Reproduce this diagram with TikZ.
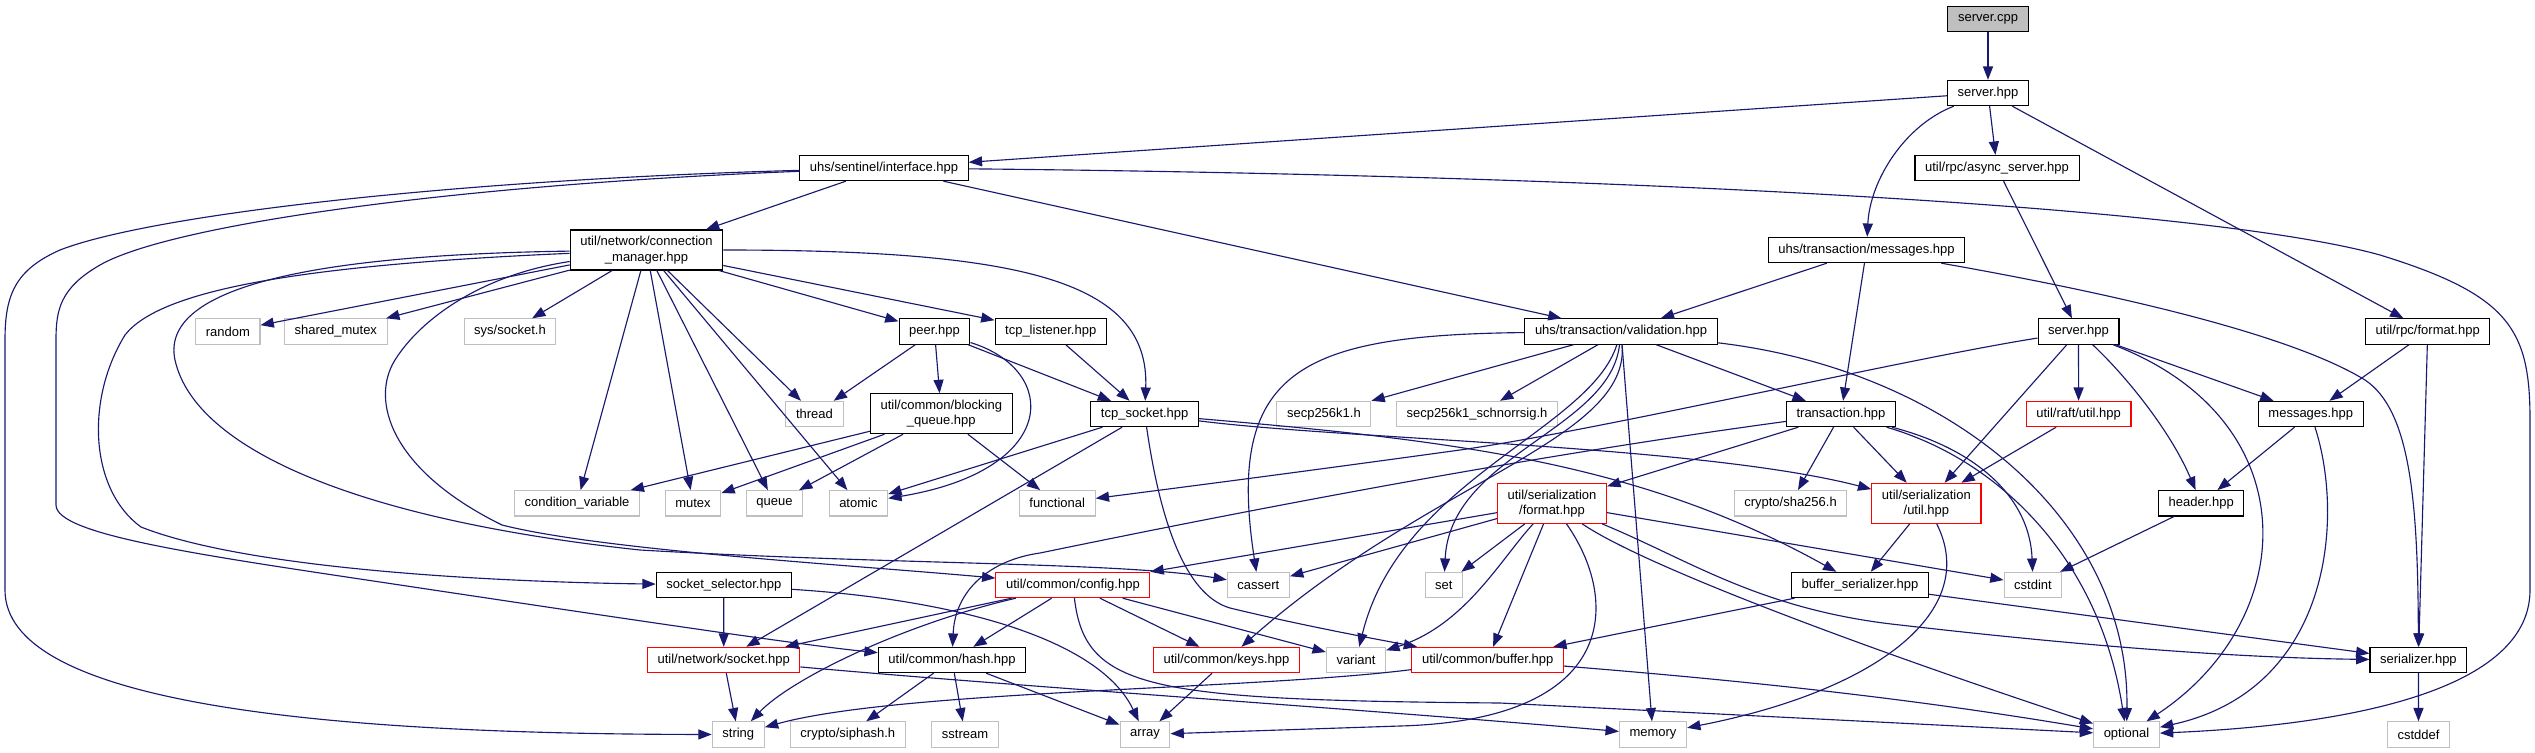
\documentclass[tikz,border=0pt]{standalone}
\usepackage{fontspec}
\setmainfont{Liberation Sans}
\usetikzlibrary{arrows.meta}
\definecolor{edgeblue}{HTML}{191970}
\definecolor{sysgray}{HTML}{BFBFBF}
\tikzset{
hdrbox/.style={draw=black, line width=0.8pt, fill=white, inner xsep=7.6pt, inner ysep=0pt, minimum height=19pt, align=center, font=\fontsize{9.75}{11.5}\selectfont},
srcbox/.style={hdrbox, fill=sysgray},
redbox/.style={hdrbox, draw=red},
sysbox/.style={hdrbox, draw=sysgray},
twoline/.style={minimum height=30pt},
deparrow/.style={-{Triangle[length=10pt,width=7.5pt]}, draw=edgeblue, line width=0.85pt}
}

\begin{document}
\begin{tikzpicture}[x=0.75pt,y=-0.75pt]
\fill[white] (0,0) rectangle (2535,753);
\useasboundingbox (0,0) rectangle (2535,753);

% row 0-2
\node[srcbox] (servercpp) at (1988,19) {server.cpp};
\node[hdrbox] (serverhpp) at (1988,93) {server.hpp};
\node[hdrbox] (asyncsrv) at (1997,168) {util/rpc/async\_server.hpp};
\node[hdrbox] (interface) at (884,168) {uhs/sentinel/interface.hpp};
% row 3-4
\node[hdrbox,twoline] (connmgr) at (646.5,250) {util/network/connection\\\_manager.hpp};
\node[hdrbox] (txmsgs) at (1866.5,250) {uhs/transaction/messages.hpp};
\node[sysbox] (random) at (227.8,331.5) {random};
\node[sysbox] (sharedmutex) at (335.8,331.5) {shared\_mutex};
\node[sysbox] (syssocket) at (510,331.5) {sys/socket.h};
\node[hdrbox] (peer) at (934.5,331.5) {peer.hpp};
\node[hdrbox] (tcplistener) at (1050.7,331.5) {tcp\_listener.hpp};
\node[hdrbox] (validation) at (1621,331.5) {uhs/transaction/validation.hpp};
\node[hdrbox] (rpcserver) at (2078.5,331.5) {server.hpp};
\node[hdrbox] (rpcformat) at (2427.7,331.5) {util/rpc/format.hpp};
% row 5
\node[sysbox] (thread) at (814.5,414) {thread};
\node[hdrbox,twoline] (blockq) at (941.3,413.7) {util/common/blocking\\\_queue.hpp};
\node[hdrbox] (tcpsocket) at (1144.7,414) {tcp\_socket.hpp};
\node[sysbox] (secp) at (1323.9,414) {secp256k1.h};
\node[sysbox] (schnorr) at (1477,414) {secp256k1\_schnorrsig.h};
\node[hdrbox] (transaction) at (1841,414) {transaction.hpp};
\node[redbox] (raftutil) at (2078.6,414) {util/raft/util.hpp};
\node[hdrbox] (msgs) at (2310.7,414) {messages.hpp};
% row 6
\node[sysbox] (condvar) at (577,503.3) {condition\_variable};
\node[sysbox] (mutex) at (693,503.3) {mutex};
\node[sysbox] (queue) at (774.5,503.3) {queue};
\node[sysbox] (atomic) at (858.4,503.3) {atomic};
\node[sysbox] (functional) at (1057.2,503.3) {functional};
\node[redbox,twoline] (serformat) at (1552,503.3) {util/serialization\\/format.hpp};
\node[sysbox] (sha) at (1790.5,503.3) {crypto/sha256.h};
\node[redbox,twoline] (serutil) at (1926.4,503.3) {util/serialization\\/util.hpp};
\node[hdrbox] (header) at (2201.2,503.3) {header.hpp};
% row 7
\node[hdrbox] (sockselector) at (723.8,585) {socket\_selector.hpp};
\node[redbox] (config) at (1072.9,585) {util/common/config.hpp};
\node[sysbox] (cassert) at (1258.4,585) {cassert};
\node[sysbox] (set) at (1443.9,585) {set};
\node[hdrbox] (bufser) at (1860,585) {buffer\_serializer.hpp};
\node[sysbox] (cstdint) at (2033,585) {cstdint};
% row 8
\node[redbox] (netsocket) at (723.7,660) {util/network/socket.hpp};
\node[hdrbox] (hash) at (952,660) {util/common/hash.hpp};
\node[redbox] (keys) at (1226.5,660) {util/common/keys.hpp};
\node[sysbox] (variant) at (1356,660) {variant};
\node[redbox] (buffer) at (1487.7,660) {util/common/buffer.hpp};
\node[hdrbox] (serializer) at (2418.4,660) {serializer.hpp};
% row 9
\node[sysbox] (string) at (738.3,734.5) {string};
\node[sysbox] (siphash) at (847.8,734.5) {crypto/siphash.h};
\node[sysbox] (sstream) at (965,734.5) {sstream};
\node[sysbox] (array) at (1145,734.5) {array};
\node[sysbox] (memory) at (1653,734.5) {memory};
\node[sysbox] (optional) at (2126.5,734.5) {optional};
\node[sysbox] (cstddef) at (2418.5,734.5) {cstddef};

% straight includes
\foreach \src/\dst in {servercpp/serverhpp, serverhpp/interface, serverhpp/asyncsrv,
  serverhpp/rpcformat, asyncsrv/rpcserver, interface/connmgr, interface/validation,
  connmgr/random, connmgr/sharedmutex, connmgr/syssocket, connmgr/condvar,
  connmgr/mutex, connmgr/queue, connmgr/atomic, connmgr/thread, connmgr/peer,
  connmgr/tcplistener, txmsgs/validation, txmsgs/transaction, rpcserver/serutil,
  rpcserver/raftutil, rpcserver/msgs, rpcformat/msgs, rpcformat/serializer,
  peer/thread, peer/blockq, peer/tcpsocket, tcplistener/tcpsocket,
  blockq/condvar, blockq/mutex, blockq/queue, blockq/functional,
  tcpsocket/atomic, tcpsocket/netsocket, validation/secp, validation/schnorr,
  validation/transaction, validation/memory, transaction/serformat,
  transaction/sha, transaction/serutil, raftutil/serutil, msgs/header,
  serformat/config, serformat/cassert, serformat/set, serformat/buffer,
  serformat/cstdint, serutil/bufser, header/cstdint, sockselector/netsocket,
  config/netsocket, config/hash, config/keys, config/variant, bufser/buffer,
  bufser/serializer, netsocket/string, hash/siphash, hash/sstream, hash/array,
  keys/array, serializer/cstddef}
  \draw[deparrow] (\src) -- (\dst);

% curved includes
\draw[deparrow] (serverhpp) .. controls (1905,125) and (1870,180) .. (txmsgs);
\draw[deparrow] (interface) .. controls (1600,175) and (2200,205) .. (2380,255)
  .. controls (2510,295) and (2530,330) .. (2530,420) -- (2530,590)
  .. controls (2530,690) and (2350,725) .. (optional);
\draw[deparrow] (interface) .. controls (450,180) and (150,215) .. (60,250)
  .. controls (15,270) and (5,295) .. (5,340) -- (5,590)
  .. controls (5,700) and (300,734) .. (string);
\draw[deparrow] (interface) .. controls (450,185) and (170,225) .. (100,265)
  .. controls (60,288) and (56,310) .. (56,340) -- (56,505)
  .. controls (56,535) and (200,555) .. (400,585)
  .. controls (600,615) and (800,645) .. (hash);
\draw[deparrow] (connmgr) .. controls (1020,250) and (1150,280) .. (tcpsocket);
\draw[deparrow] (connmgr) .. controls (300,255) and (160,290) .. (175,360)
  .. controls (195,450) and (360,520) .. (640,550)
  .. controls (900,565) and (1120,562) .. (cassert);
\draw[deparrow] (connmgr) .. controls (480,275) and (420,320) .. (395,360)
  .. controls (370,400) and (390,470) .. (502,525)
  .. controls (600,550) and (850,565) .. (config);
\draw[deparrow] (connmgr) .. controls (300,265) and (160,290) .. (125,335)
  .. controls (85,400) and (90,490) .. (141,527)
  .. controls (250,570) and (500,582) .. (sockselector);
\draw[deparrow] (peer) .. controls (1060,370) and (1060,470) .. (atomic);
\draw[deparrow] (tcpsocket) .. controls (1160,520) and (1185,595) .. (1230,608)
  .. controls (1300,625) and (1370,638) .. (buffer);
\draw[deparrow] (tcpsocket) .. controls (1350,440) and (1700,445) .. (serutil);
\draw[deparrow] (tcpsocket) .. controls (1450,440) and (1640,462) .. (bufser);
\draw[deparrow] (rpcserver) .. controls (1900,360) and (1600,430) .. (1460,450)
  .. controls (1300,472) and (1200,485) .. (functional);
\draw[deparrow] (rpcserver) .. controls (2310,420) and (2300,620) .. (optional);
\draw[deparrow] (rpcserver) .. controls (2125,375) and (2170,430) .. (header);
\draw[deparrow] (msgs) .. controls (2345,520) and (2330,690) .. (optional);
\draw[deparrow] (validation) .. controls (1300,335) and (1225,370) .. (cassert);
\draw[deparrow] (validation) .. controls (1950,370) and (2130,520) .. (optional);
\draw[deparrow] (validation) .. controls (1590,430) and (1400,480) .. (variant);
\draw[deparrow] (validation) .. controls (1610,430) and (1450,455) .. (set);
\draw[deparrow] (validation) .. controls (1630,440) and (1430,480) .. (keys);
\draw[deparrow] (transaction) .. controls (2000,460) and (2100,560) .. (optional);
\draw[deparrow] (transaction) .. controls (1980,450) and (2030,500) .. (cstdint);
\draw[deparrow] (transaction) .. controls (1500,460) and (1200,520) .. (1040,553)
  .. controls (990,560) and (955,590) .. (hash);
\draw[deparrow] (sockselector) .. controls (960,600) and (1100,640) .. (array);
\draw[deparrow] (config) .. controls (900,625) and (790,680) .. (string);
\draw[deparrow] (config) .. controls (1085,690) and (1150,700) .. (1500,703) -- (optional);
\draw[deparrow] (netsocket) .. controls (1000,685) and (1400,712) .. (memory);
\draw[deparrow] (buffer) .. controls (1250,690) and (900,690) .. (string);
\draw[deparrow] (buffer) .. controls (1800,685) and (1950,705) .. (optional);
\draw[deparrow] (serformat) .. controls (1500,560) and (1465,625) .. (variant);
\draw[deparrow] (serformat) .. controls (1620,600) and (1620,720) .. (1400,726) -- (array);
\draw[deparrow] (serformat) .. controls (1650,570) and (1900,660) .. (optional);
\draw[deparrow] (serformat) .. controls (1690,560) and (1760,610) .. (1900,625)
  .. controls (2100,648) and (2250,658) .. (serializer);
\draw[deparrow] (serutil) .. controls (1980,610) and (1880,690) .. (memory);
\draw[deparrow] (txmsgs) .. controls (2150,300) and (2300,340) .. (2365,380)
  .. controls (2410,410) and (2418,500) .. (serializer);
\end{tikzpicture}
\end{document}
